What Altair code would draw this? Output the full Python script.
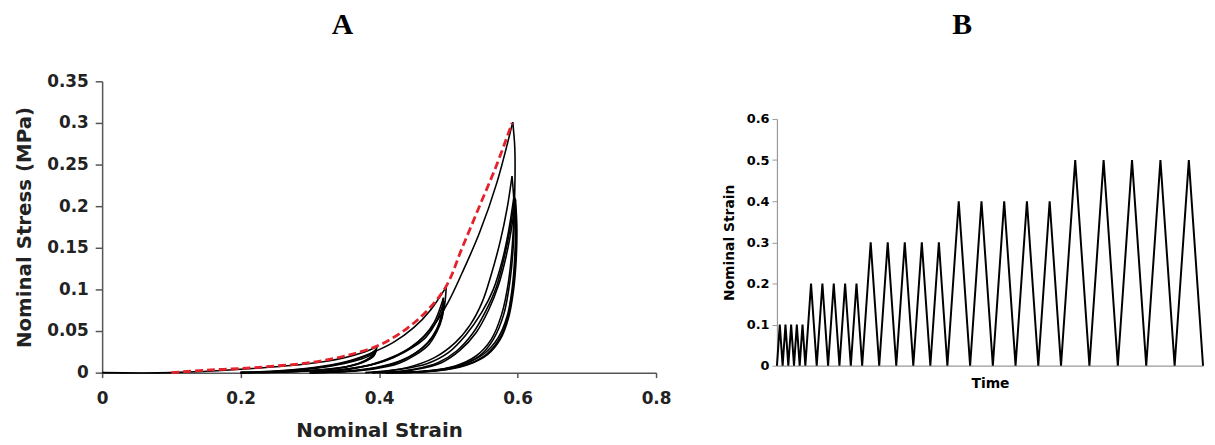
import altair as alt
import pandas as pd

# ---------------- Panel A : stress-strain loops ----------------
A_x_ticks = [0, 0.2, 0.4, 0.6, 0.8]
A_y_ticks = [0, 0.05, 0.1, 0.15, 0.2, 0.25, 0.3, 0.35]

# virgin loading envelope (red dashed)
red_strain = [0.1, 0.15, 0.2, 0.25, 0.3, 0.35, 0.4, 0.44, 0.47, 0.497, 0.52, 0.545, 0.57, 0.592]
red_stress = [0.0, 0.003, 0.005, 0.008, 0.012, 0.02, 0.033, 0.053, 0.075, 0.104, 0.15, 0.2, 0.25, 0.3]

# level 0.4 cycles
s40_l1 = [0.0, 0.1, 0.2, 0.3, 0.35, 0.38, 0.397]
f40_l1 = [0.0, 0.0, 0.004, 0.011, 0.018, 0.025, 0.031]
s40_u1 = [0.397, 0.394, 0.385, 0.37, 0.345, 0.31, 0.27, 0.23, 0.2]
f40_u1 = [0.031, 0.024, 0.017, 0.011, 0.006, 0.003, 0.001, 0.0002, 0.0]
s40_l2 = [0.2, 0.26, 0.31, 0.345, 0.37, 0.386, 0.396]
f40_l2 = [0.0, 0.002, 0.006, 0.011, 0.017, 0.022, 0.028]
s40_u2 = [0.396, 0.393, 0.383, 0.367, 0.342, 0.31, 0.27, 0.23, 0.2]
f40_u2 = [0.028, 0.021, 0.015, 0.01, 0.0055, 0.0028, 0.001, 0.0002, 0.0]
s40_l3 = [0.2, 0.265, 0.315, 0.35, 0.373, 0.388, 0.396]
f40_l3 = [0.0, 0.002, 0.006, 0.011, 0.016, 0.021, 0.027]
s40_u3 = [0.396, 0.392, 0.381, 0.364, 0.338, 0.305, 0.265, 0.225, 0.2]
f40_u3 = [0.027, 0.02, 0.014, 0.009, 0.005, 0.0025, 0.0009, 0.0002, 0.0]

# level 0.5 cycles
s50_l1 = [0.2, 0.27, 0.32, 0.36, 0.39, 0.42, 0.45, 0.475, 0.497]
f50_l1 = [0.0, 0.003, 0.008, 0.015, 0.024, 0.036, 0.054, 0.076, 0.103]
s50_u1 = [0.497, 0.494, 0.487, 0.475, 0.455, 0.43, 0.395, 0.35, 0.3]
f50_u1 = [0.103, 0.078, 0.058, 0.04, 0.025, 0.014, 0.006, 0.0015, 0.0]
s50_l2 = [0.3, 0.35, 0.39, 0.42, 0.445, 0.465, 0.48, 0.493]
f50_l2 = [0.0, 0.004, 0.01, 0.019, 0.03, 0.044, 0.061, 0.09]
s50_u2 = [0.493, 0.49, 0.483, 0.47, 0.45, 0.425, 0.39, 0.345, 0.3]
f50_u2 = [0.09, 0.069, 0.052, 0.036, 0.022, 0.012, 0.005, 0.0012, 0.0]
s50_l3 = [0.3, 0.352, 0.392, 0.423, 0.448, 0.468, 0.482, 0.494]
f50_l3 = [0.0, 0.004, 0.01, 0.019, 0.03, 0.043, 0.06, 0.086]
s50_u3 = [0.494, 0.491, 0.484, 0.472, 0.452, 0.428, 0.393, 0.35, 0.305]
f50_u3 = [0.086, 0.066, 0.05, 0.034, 0.021, 0.011, 0.0045, 0.001, 0.0]

# level 0.6 cycles
s60_l1 = [0.3, 0.37, 0.42, 0.455, 0.48, 0.5, 0.52, 0.545, 0.57, 0.593]
f60_l1 = [0.0, 0.006, 0.018, 0.036, 0.058, 0.085, 0.12, 0.168, 0.228, 0.301]
s60_u1 = [0.593, 0.596, 0.596, 0.593, 0.587, 0.577, 0.562, 0.54, 0.51, 0.47, 0.43, 0.39]
f60_u1 = [0.301, 0.27, 0.22, 0.16, 0.11, 0.07, 0.04, 0.02, 0.008, 0.002, 0.0003, 0.0]
s60_l2 = [0.39, 0.44, 0.48, 0.51, 0.532, 0.549, 0.562, 0.575, 0.585, 0.592]
f60_l2 = [0.0, 0.006, 0.018, 0.036, 0.058, 0.085, 0.118, 0.158, 0.198, 0.236]
s60_u2 = [0.592, 0.595, 0.594, 0.589, 0.58, 0.565, 0.545, 0.515, 0.475, 0.43]
f60_u2 = [0.236, 0.2, 0.155, 0.11, 0.07, 0.04, 0.02, 0.008, 0.002, 0.0]
s60_l3 = [0.38, 0.43, 0.47, 0.5, 0.525, 0.548, 0.565, 0.578, 0.587, 0.595]
f60_l3 = [0.0, 0.004, 0.011, 0.024, 0.045, 0.072, 0.1, 0.135, 0.17, 0.213]
s60_u3 = [0.595, 0.597, 0.596, 0.592, 0.585, 0.572, 0.552, 0.525, 0.49, 0.45, 0.41]
f60_u3 = [0.213, 0.18, 0.14, 0.1, 0.068, 0.042, 0.023, 0.011, 0.004, 0.001, 0.0]
s60_l4 = [0.41, 0.45, 0.485, 0.512, 0.535, 0.554, 0.569, 0.58, 0.589, 0.596]
f60_l4 = [0.0, 0.004, 0.012, 0.026, 0.047, 0.074, 0.102, 0.136, 0.172, 0.21]
s60_u4 = [0.596, 0.598, 0.597, 0.593, 0.586, 0.574, 0.555, 0.528, 0.494, 0.455, 0.41]
f60_u4 = [0.21, 0.177, 0.138, 0.099, 0.067, 0.041, 0.022, 0.01, 0.0035, 0.0008, 0.0]
s60_l5 = [0.41, 0.455, 0.49, 0.517, 0.54, 0.558, 0.572, 0.583, 0.591, 0.597]
f60_l5 = [0.0, 0.004, 0.012, 0.027, 0.048, 0.075, 0.104, 0.138, 0.172, 0.208]
s60_u5 = [0.597, 0.599, 0.598, 0.594, 0.587, 0.575, 0.557, 0.53, 0.497, 0.458, 0.415]
f60_u5 = [0.208, 0.175, 0.136, 0.098, 0.066, 0.04, 0.022, 0.01, 0.0035, 0.0008, 0.0]

branches = [
    ("40l1", s40_l1, f40_l1), ("40u1", s40_u1, f40_u1),
    ("40l2", s40_l2, f40_l2), ("40u2", s40_u2, f40_u2),
    ("40l3", s40_l3, f40_l3), ("40u3", s40_u3, f40_u3),
    ("50l1", s50_l1, f50_l1), ("50u1", s50_u1, f50_u1),
    ("50l2", s50_l2, f50_l2), ("50u2", s50_u2, f50_u2),
    ("50l3", s50_l3, f50_l3), ("50u3", s50_u3, f50_u3),
    ("60l1", s60_l1, f60_l1), ("60u1", s60_u1, f60_u1),
    ("60l2", s60_l2, f60_l2), ("60u2", s60_u2, f60_u2),
    ("60l3", s60_l3, f60_l3), ("60u3", s60_u3, f60_u3),
    ("60l4", s60_l4, f60_l4), ("60u4", s60_u4, f60_u4),
    ("60l5", s60_l5, f60_l5), ("60u5", s60_u5, f60_u5),
]

rows = []
for name, xs, ys in branches:
    for i, (x, y) in enumerate(zip(xs, ys)):
        rows.append({"branch": name, "i": i, "strain": x, "stress": y})
dfA = pd.DataFrame(rows)
dfR = pd.DataFrame({"i": list(range(len(red_strain))), "strain": red_strain, "stress": red_stress})

# ---------------- Panel B : strain history ----------------
B_y_ticks = [0, 0.1, 0.2, 0.3, 0.4, 0.5, 0.6]
b_time = [0, 0.1, 0.2, 0.3, 0.4, 0.5, 0.6, 0.7, 0.8, 0.9, 1.0,
          1.2, 1.4, 1.6, 1.8, 2.0, 2.2, 2.4, 2.6, 2.8, 3.0,
          3.3, 3.6, 3.9, 4.2, 4.5, 4.8, 5.1, 5.4, 5.7, 6.0,
          6.4, 6.8, 7.2, 7.6, 8.0, 8.4, 8.8, 9.2, 9.6, 10.0,
          10.5, 11.0, 11.5, 12.0, 12.5, 13.0, 13.5, 14.0, 14.5, 15.0]
b_strain = [0, 0.1, 0, 0.1, 0, 0.1, 0, 0.1, 0, 0.1, 0,
            0.2, 0, 0.2, 0, 0.2, 0, 0.2, 0, 0.2, 0,
            0.3, 0, 0.3, 0, 0.3, 0, 0.3, 0, 0.3, 0,
            0.4, 0, 0.4, 0, 0.4, 0, 0.4, 0, 0.4, 0,
            0.5, 0, 0.5, 0, 0.5, 0, 0.5, 0, 0.5, 0]
dfB = pd.DataFrame({"i": list(range(len(b_time))), "time": b_time, "strain": b_strain})

AX = "#555555"
TXT = "#222222"
FONT = "DejaVu Sans"

xA = alt.X("strain:Q", scale=alt.Scale(domain=[0, 0.8], nice=False),
           axis=alt.Axis(values=A_x_ticks, format="~g", title="Nominal Strain", grid=False,
                         domainColor=AX, domainWidth=1.5, tickColor=AX, tickWidth=1.5, tickSize=5,
                         labelFont=FONT, labelFontSize=17, labelFontWeight="bold", labelColor=TXT,
                         labelPadding=13, labelFlush=False, labelOverlap=False,
                         titleFont=FONT, titleFontSize=20, titleFontWeight="bold", titleColor=TXT,
                         titlePadding=14))
yA = alt.Y("stress:Q", scale=alt.Scale(domain=[0, 0.35], nice=False),
           axis=alt.Axis(values=A_y_ticks, format="~g", title="Nominal Stress (MPa)", grid=False,
                         domainColor=AX, domainWidth=1.5, tickColor=AX, tickWidth=1.5, tickSize=7,
                         labelFont=FONT, labelFontSize=17, labelFontWeight="bold", labelColor=TXT,
                         labelPadding=7, labelFlush=False, labelOverlap=False,
                         titleFont=FONT, titleFontSize=20, titleFontWeight="bold", titleColor=TXT,
                         titlePadding=12))

black = alt.Chart(dfA).mark_line(color="black", strokeWidth=1.6, interpolate="catmull-rom").encode(
    x=xA, y=yA, detail="branch:N", order="i:Q")
red = alt.Chart(dfR).mark_line(color="#e3222b", strokeWidth=2.8, strokeDash=[8, 4],
                               interpolate="catmull-rom").encode(
    x="strain:Q", y="stress:Q", order="i:Q")

chartA = alt.layer(black, red).properties(
    width=559, height=294,
    title=alt.TitleParams("A", font="Liberation Serif", fontSize=30, fontWeight="bold", color="black",
                          anchor="middle", frame="group", dx=-37, offset=33))

xB = alt.X("time:Q", scale=alt.Scale(domain=[0, 15], nice=False),
           axis=alt.Axis(title="Time", ticks=False, labels=False, grid=False,
                         domainColor="#999999", domainWidth=1.2,
                         titleFont=FONT, titleFontSize=14, titleFontWeight="bold", titleColor="black",
                         titlePadding=11))
yB = alt.Y("strain:Q", scale=alt.Scale(domain=[0, 0.6], nice=False, range=[287, 38]),
           axis=alt.Axis(values=B_y_ticks, format="~g", title="Nominal Strain", grid=False,
                         domainColor="#999999", domainWidth=1.2, tickColor="#999999", tickSize=5,
                         labelFont=FONT, labelFontSize=13, labelFontWeight="bold", labelColor="black",
                         labelPadding=3, labelFlush=False, labelOverlap=False,
                         titleFont=FONT, titleFontSize=14, titleFontWeight="bold", titleColor="black",
                         titlePadding=10))

chartB = alt.Chart(dfB).mark_line(color="black", strokeWidth=2).encode(
    x=xB, y=yB, order="i:Q").properties(
    width=430, height=287,
    title=alt.TitleParams("B", font="Liberation Serif", fontSize=30, fontWeight="bold", color="black",
                          anchor="middle", frame="group", dx=-28, offset=42))

chart = alt.hconcat(chartA, chartB, spacing=50).properties(
    padding={"left": 7, "top": 0, "right": 0, "bottom": 0}
).configure_view(stroke=None)

chart.save("out.html", embed_options={"renderer": "svg", "actions": False})
